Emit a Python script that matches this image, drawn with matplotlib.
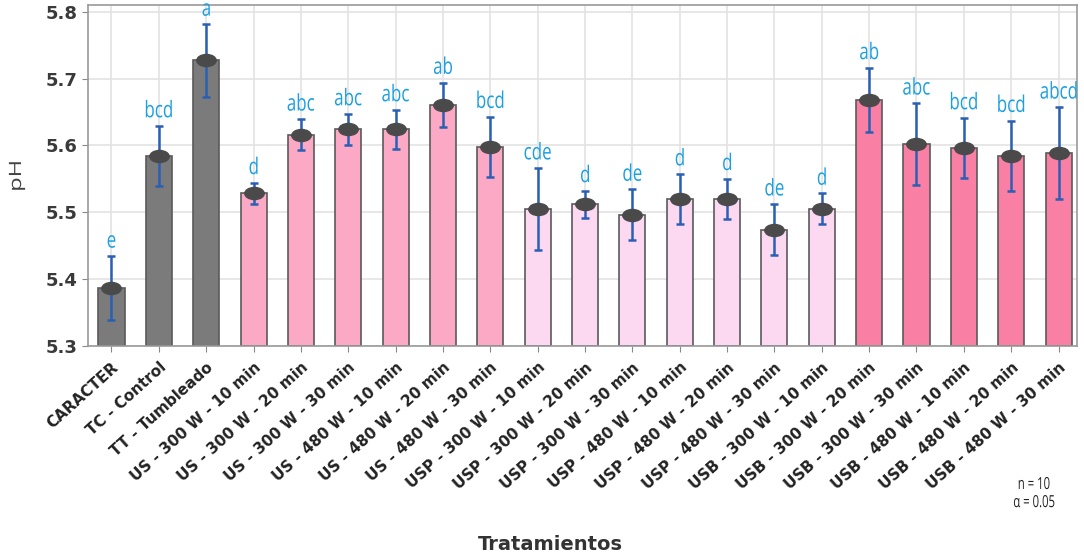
import numpy as np
import matplotlib.pyplot as plt
from matplotlib.path import Path
from matplotlib.transforms import Affine2D, ScaledTranslation
from matplotlib.textpath import TextPath
from matplotlib.patches import PathPatch
from matplotlib.font_manager import FontProperties

# Tratamientos y medias de pH
tratamientos = [
    "CARACTER", "TC - Control", "TT - Tumbleado",
    "US - 300 W - 10 min", "US - 300 W - 20 min", "US - 300 W - 30 min",
    "US - 480 W - 10 min", "US - 480 W - 20 min", "US - 480 W - 30 min",
    "USP - 300 W - 10 min", "USP - 300 W - 20 min", "USP - 300 W - 30 min",
    "USP - 480 W - 10 min", "USP - 480 W - 20 min", "USP - 480 W - 30 min",
    "USB - 300 W - 10 min", "USB - 300 W - 20 min", "USB - 300 W - 30 min",
    "USB - 480 W - 10 min", "USB - 480 W - 20 min", "USB - 480 W - 30 min",
]
medias = [5.386, 5.584, 5.727, 5.528, 5.616, 5.624, 5.624, 5.661, 5.598,
          5.505, 5.512, 5.496, 5.520, 5.520, 5.474, 5.505,
          5.668, 5.602, 5.596, 5.584, 5.588]
desv = [0.048, 0.045, 0.054, 0.016, 0.023, 0.023, 0.029, 0.033, 0.045,
        0.061, 0.020, 0.038, 0.037, 0.030, 0.038, 0.023,
        0.048, 0.061, 0.045, 0.053, 0.069]
letras = ["e", "bcd", "a", "d", "abc", "abc", "abc", "ab", "bcd",
          "cde", "d", "de", "d", "d", "de", "d",
          "ab", "abc", "bcd", "bcd", "abcd"]
grupos = ["C"] * 3 + ["US"] * 6 + ["USP"] * 7 + ["USB"] * 5

colores = {"C": "#7b7b7b", "US": "#fba9c5", "USP": "#fdd9f1", "USB": "#f97fa5"}

fig = plt.figure(figsize=(10.84, 5.56), dpi=100)
ax = fig.add_axes([0.081, 0.378, 0.913, 0.613])


def texto_estrecho(x, y, s, size, trans, color, sx=0.72, sy=1.0, rot=0,
                   centro_y=False, weight="normal"):
    # texto comprimido en horizontal a partir de su contorno
    tp = TextPath((0, 0), s, size=size,
                  prop=FontProperties(family=["Open Sans", "DejaVu Sans"],
                                      weight=weight))
    bb = tp.get_extents()
    dy = -(bb.y0 + bb.y1) / 2 if centro_y else 0
    t = (Affine2D().translate(-(bb.x0 + bb.x1) / 2, dy)
         .scale(sx * fig.dpi / 72, sy * fig.dpi / 72)
         .rotate_deg(rot)
         + ScaledTranslation(x, y, trans))
    p = PathPatch(tp, transform=t, facecolor=color, edgecolor="none",
                  zorder=6)
    fig.add_artist(p)


x = np.arange(len(tratamientos))
ax.bar(x, np.array(medias) - 5.3, bottom=5.3, width=0.55,
       color=[colores[g] for g in grupos], edgecolor="#5a5a5a", linewidth=1.2,
       zorder=2)

# marcador eliptico para la media
elipse = Path.unit_circle().transformed(Affine2D().scale(1.0, 0.62))
ax.errorbar(x, medias, yerr=desv, fmt="none", ecolor="#2b5fb4",
            elinewidth=1.8, capsize=3, capthick=1.8, zorder=3)
ax.plot(x, medias, linestyle="none", marker=elipse, markersize=14,
        color="#4a4a4a", zorder=4)

ax.set_xlim(-0.5, 20.4)
ax.set_ylim(5.3, 5.81)

for xi, m, s, l in zip(x, medias, desv, letras):
    texto_estrecho(xi, m + s + 0.013, l, 16.5, ax.transData, "#1a9fe0",
                   sx=0.74)

ax.set_yticks([5.3, 5.4, 5.5, 5.6, 5.7, 5.8])
ax.set_yticklabels(["5.3", "5.4", "5.5", "5.6", "5.7", "5.8"],
                   fontsize=13, fontweight="bold", color="#3a3a3a")
ax.set_xticks(x)
ax.set_xticklabels(tratamientos, rotation=42, ha="right",
                   rotation_mode="anchor", fontsize=11, fontweight="bold",
                   color="#222222")
ax.tick_params(axis="both", color="#888888", length=4)
ax.tick_params(axis="x", pad=6)
ax.grid(True, color="#e3e3e3", linewidth=1.2, zorder=0)
ax.set_axisbelow(True)
for sp in ax.spines.values():
    sp.set_color("#9a9a9a")
    sp.set_linewidth(1.2)

# pH en vertical, comprimido en su altura
texto_estrecho(17 / 1084, 1 - 176 / 556, "pH", 17, fig.transFigure,
               "#444444", sx=1.0, sy=0.72, rot=90, centro_y=True)

fig.text(0.508, 0.011, "Tratamientos", ha="center", va="baseline",
         fontsize=14, fontweight="bold", color="#333333")

texto_estrecho(0.954, 0.1205, "n = 10", 12, fig.transFigure, "#222222",
               sx=0.68)
texto_estrecho(0.954, 0.088, "\u03b1 = 0.05", 12, fig.transFigure,
               "#222222", sx=0.68)

fig.savefig("out.png", dpi=100)
